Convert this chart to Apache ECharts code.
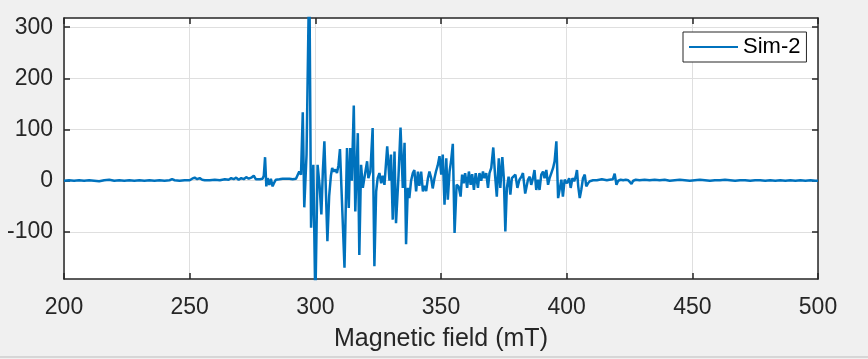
<!DOCTYPE html>
<html><head><meta charset="utf-8">
<script src="https://cdn.jsdelivr.net/npm/echarts@6/dist/echarts.min.js"></script>
<style>html,body{margin:0;padding:0;background:#f0f0f0}#c{width:868px;height:359px}</style>
</head><body><div id="c"></div>
<script>
// Magnetic field (mT)
const field = [
  200,202,204,206,208,210,212,214,216,218,
  220,222,224,226,228,230,232,234,236,238,
  240,242,243,244,246,248,250,251,252,253,
  254,255,256,258,260,262,264,265.5,266.5,267.5,
  268.5,269.5,270.5,271.5,272.5,273.5,274.5,275.5,276.3,277,
  278,279,279.5,
  280.0,280.5,281.0,281.7,282.3,283.0,283.7,284.3,285.0,285.7,
  286.3,287.0,287.7,288.3,289.0,289.7,290.3,291.0,291.7,292.3,
  293.0,293.6,294.3,295.0,295.6,296.5,297.6,298.3,299.2,300.0,
  300.9,301.7,302.4,303.0,303.6,304.2,304.8,305.5,306.2,306.7,
  307.3,308.0,308.6,309.2,309.8,310.5,311.6,
  312.6,313.3,313.9,314.5,315.3,315.9,316.9,317.5,318.2,318.9,
  319.5,320.6,321.1,321.9,322.8,323.5,324.2,324.8,325.5,326.2,
  326.8,327.5,328.6,329.5,330.1,330.8,331.5,332.1,333.1,333.9,
  334.8,335.5,336.1,336.8,337.4,338.1,338.8,339.4,340.1,340.8,
  341.4,342.1,342.8,343.4,344.1,344.8,345.4,346.1,346.7,347.4,
  348.0,348.7,349.4,350.1,350.7,351.4,352.1,352.7,353.4,354.0,
  354.7,355.4,356.2,357.0,357.8,358.4,359.0,359.6,360.4,361.1,
  361.8,362.4,363.1,363.8,364.7,365.3,366.0,366.7,367.3,368.0,
  368.7,369.3,370.0,370.8,371.5,372.2,373.0,373.6,374.4,375.0,
  375.6,376.2,376.9,377.6,378.2,378.9,379.6,380.4,381.2,382.0,
  382.6,
  383.5,384.6,385.3,385.9,386.6,387.2,387.9,388.6,389.2,389.9,
  390.6,391.2,391.9,392.6,393.2,393.9,394.6,395.2,395.9,396.6,
  397.2,397.9,398.5,399.2,400.1,401.0,401.6,402.3,403.0,403.6,
  404.1,404.6,405.2,405.8,406.5,407.2,407.8,408.5,409.2,
  409.8,410.5,411.2,412,413,414,415,416,417,418.4,
  419.1,419.8,420.5,421.5,422.5,423.5,424.5,425.2,425.8,426.5,
  427.5,429,431,433,435,437,439,441,443,445,
  447,449,451,453,455,457,459,461,463,465,
  467,469,471,473,475,477,479,481,483,485,
  487,489,491,493,495,497,499,500
];
// Sim-2 signal
const signal = [
  0,1,0,1,0,1,0,-1,1,2,
  0,1,0,1,0,1,0,1,0,1,
  0,1,3,1,0,1,1,4,6,3,
  5,2,1,1,2,1,3,2,5,3,
  6,2,5,3,7,4,6,10,3,5,
  3,4,10,
  46,-11,5,-8,4,-11,-3,2,4,3,
  5,4,2,4,7,4,5,3,5,4,
  7,18,12,134,-52,51,420,-92,31,-240,
  31,-10,-66,20,77,80,-118,-30,10,25,
  18,22,15,30,62,60,-170,
  64,-53,64,0,147,-60,93,-145,31,-14,
  5,38,5,18,103,-167,-21,5,15,-5,
  10,-8,67,0,51,-76,57,-83,10,104,
  -14,74,-124,-14,-34,0,15,21,-21,18,
  -10,18,-21,-10,-20,5,18,5,-15,5,
  18,30,48,12,51,-47,44,-37,18,38,
  72,-102,-8,-11,-31,12,-5,15,-14,18,
  -8,13,-18,15,-14,15,0,18,5,15,
  -14,15,25,65,12,-31,44,-14,46,5,
  -99,-14,8,-27,5,2,12,-14,2,8,
  15,
  -25,2,8,-8,5,21,-18,2,-18,12,
  18,5,21,-8,5,15,25,38,77,-34,
  -31,2,-31,2,-5,5,-14,5,-1,8,
  21,-11,-34,-18,5,12,-11,-5,-1,
  2,1,2,1,2,3,2,1,2,3,
  14,-8,0,2,1,2,1,2,-6,0,
  2,1,2,1,2,1,2,0,1,2,
  1,0,1,2,1,0,1,1,2,1,
  0,1,1,0,1,1,0,1,0,1,
  0,1,0,1,0,1,0,0
];
const xTicks = [200,250,300,350,400,450,500];
const yTicks = [-100,0,100,200,300];
const seriesName = 'Sim-2';
const xTitle = 'Magnetic field (mT)';

const xMin = 200, xMax = 500, xStep = 50;
const yMin = -192, yMax = 318;
const axisCol = '#262626';
const gridCol = '#dfdfdf';
const font = '"Liberation Sans", Arial, Helvetica, sans-serif';

const chart = echarts.init(document.getElementById('c'), null, {renderer: 'canvas'});
const tickBase = {show: true, inside: true, length: 6, lineStyle: {color: axisCol, width: 1.5}};
chart.setOption({
  backgroundColor: '#f0f0f0',
  animation: false,
  grid: {left: 64, top: 18, width: 754, height: 261, show: true, backgroundColor: '#ffffff', borderWidth: 0},
  legend: {
    data: [{name: seriesName, icon: 'rect'}],
    left: 683, top: 32, z: 20,
    itemWidth: 49, itemHeight: 2, itemGap: 5,
    padding: [4, 6, 4, 6],
    borderColor: axisCol, borderWidth: 1, backgroundColor: '#ffffff',
    textStyle: {fontSize: 22, color: '#000', fontFamily: font}
  },
  xAxis: [{
    type: 'value', min: xMin, max: xMax, interval: xStep, position: 'bottom',
    axisLine: {show: true, onZero: false, lineStyle: {color: axisCol, width: 1.5}},
    axisTick: tickBase,
    axisLabel: {fontSize: 23, color: axisCol, margin: 17, fontFamily: font, customValues: xTicks},
    splitLine: {show: true, lineStyle: {color: gridCol, width: 1}},
    name: xTitle, nameLocation: 'middle', nameGap: 48,
    nameTextStyle: {fontSize: 25, color: axisCol, fontFamily: font}
  }, {
    type: 'value', min: xMin, max: xMax, interval: xStep, position: 'top',
    axisLine: {show: true, onZero: false, lineStyle: {color: axisCol, width: 1.5}},
    axisTick: tickBase, axisLabel: {show: false}, splitLine: {show: false}
  }],
  yAxis: [{
    type: 'value', min: yMin, max: yMax, position: 'left',
    axisLine: {show: true, onZero: false, lineStyle: {color: axisCol, width: 1.5}},
    axisTick: Object.assign({}, tickBase, {customValues: yTicks}),
    axisLabel: {fontSize: 23, color: axisCol, margin: 11, fontFamily: font, customValues: yTicks},
    splitLine: {show: true, lineStyle: {color: gridCol, width: 1}}
  }, {
    type: 'value', min: yMin, max: yMax, position: 'right',
    axisLine: {show: true, onZero: false, lineStyle: {color: axisCol, width: 1.5}},
    axisTick: Object.assign({}, tickBase, {customValues: yTicks}),
    axisLabel: {show: false}, splitLine: {show: false}
  }],
  graphic: [{type: 'line', shape: {x1: 0, y1: 357, x2: 868, y2: 357}, style: {stroke: '#bdbdbd', lineWidth: 1}, silent: true}],
  series: [{
    name: seriesName, type: 'line', xAxisIndex: 0, yAxisIndex: 0, z: 10,
    data: field.map((f, i) => [f, signal[i]]),
    showSymbol: false, symbol: 'none', clip: true,
    lineStyle: {color: '#0072BD', width: 2.5},
    itemStyle: {color: '#0072BD'}
  }]
});
</script>
</body></html>
